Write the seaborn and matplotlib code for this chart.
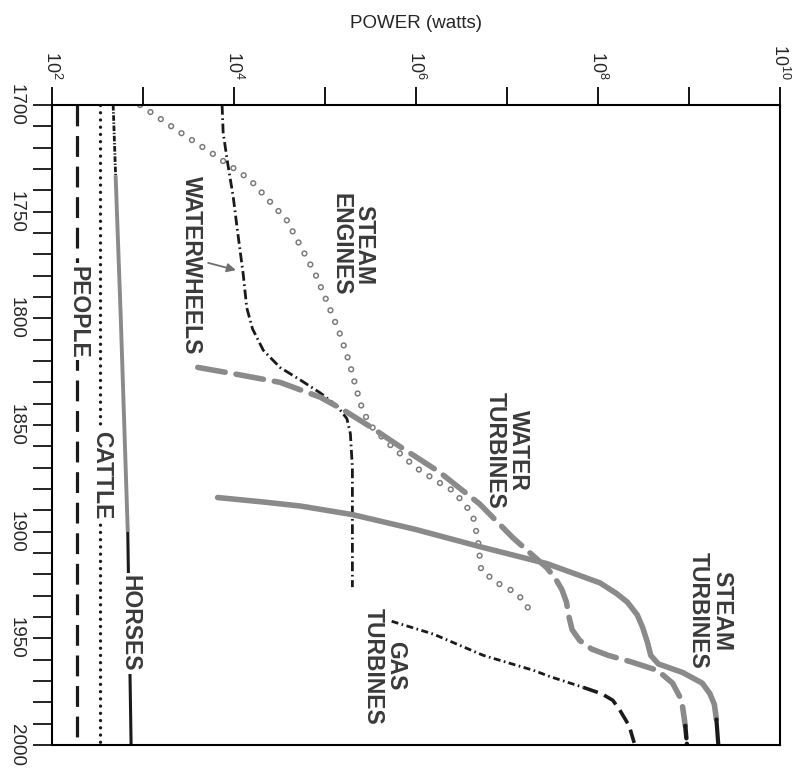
import matplotlib
matplotlib.use("Agg")
import matplotlib.pyplot as plt
import seaborn as sns
import numpy as np
import pandas as pd

# ---------------- data (power in watts, time in years) ----------------
people_years = [1700, 1997]
people_power = [1.9e2, 1.9e2]

cattle_years = [1700, 2000]
cattle_power = [3.4e2, 3.4e2]

horses_years = [1700, 1733, 1800, 1900, 2000]
horses_power = [4.7e2, 5.0e2, 5.7e2, 6.8e2, 7.4e2]

steam_eng_years = [1700, 1713, 1723, 1735, 1754, 1765, 1779, 1793, 1807, 1821, 1834,
                   1844, 1851, 1858, 1870, 1877, 1881, 1889, 1894, 1904, 1918, 1924,
                   1929, 1935, 1940]
steam_eng_power = [9.3e2, 2.6e3, 5.9e3, 1.5e4, 3.8e4, 5.2e4, 7.8e4, 1.07e5, 1.45e5, 1.86e5,
                   2.24e5, 2.63e5, 3.3e5, 4.8e5, 1.0e6, 1.8e6, 2.6e6, 3.7e6, 4.3e6, 4.8e6,
                   5.2e6, 7.8e6, 1.3e7, 1.66e7, 2.0e7]

waterwheel_years = [1700, 1713, 1727, 1743, 1760, 1779, 1795, 1805, 1815, 1823, 1829,
                    1835, 1841, 1847, 1854, 1870, 1900, 1926]
waterwheel_power = [7.4e3, 7.6e3, 8.5e3, 9.8e3, 1.1e4, 1.26e4, 1.38e4, 1.6e4, 2.1e4, 3.2e4,
                    5.4e4, 8.9e4, 1.35e5, 1.74e5, 1.9e5, 2.0e5, 2.0e5, 2.0e5]

water_turb_years = [1823, 1826, 1830, 1837, 1843, 1851, 1860, 1872, 1887, 1903, 1917, 1922,
                    1927, 1933, 1940, 1946, 1951, 1955, 1958, 1961, 1965, 1971, 1979, 1991, 2000]
water_turb_power = [4.0e3, 1.0e4, 3.2e4, 8.9e4, 1.6e5, 3.2e5, 6.6e5, 1.8e6, 5.0e6, 1.17e7,
                    2.75e7, 3.4e7, 4.0e7, 4.5e7, 4.8e7, 5.2e7, 6.3e7, 8.5e7, 1.3e8, 2.3e8,
                    4.5e8, 6.6e8, 8.3e8, 9.1e8, 9.5e8]

steam_turb_years = [1884, 1886, 1888, 1892, 1899, 1907, 1915, 1920, 1924, 1929, 1933, 1939,
                    1945, 1952, 1958, 1962, 1966, 1971, 1976, 1981, 1988, 2000]
steam_turb_power = [6.6e3, 2.0e4, 5.4e4, 2.0e5, 1.0e6, 5.0e6, 2.75e7, 5.8e7, 1.05e8, 1.6e8,
                    2.1e8, 2.7e8, 3.1e8, 3.5e8, 3.8e8, 4.6e8, 8.5e8, 1.4e9, 1.7e9, 1.9e9,
                    2.0e9, 2.1e9]

gas_turb_years = [1942, 1948, 1958, 1965, 1968, 1973, 1976, 1979, 1983, 1991, 1999]
gas_turb_power = [5.4e5, 1.55e6, 5.5e6, 1.95e7, 3.0e7, 6.9e7, 1.1e8, 1.45e8, 1.7e8, 2.2e8, 2.5e8]

power_ticks = [1e2, 1e3, 1e4, 1e5, 1e6, 1e7, 1e8, 1e9, 1e10]
power_ticklabels = ["$10^{2}$", "", "$10^{4}$", "", "$10^{6}$", "", "$10^{8}$", "", "$10^{10}$"]
year_ticks = [1700, 1750, 1800, 1850, 1900, 1950, 2000]
year_minor = list(range(1700, 2001, 10))

labels = ["STEAM\nENGINES", "WATERWHEELS", "PEOPLE", "CATTLE", "HORSES",
          "WATER\nTURBINES", "STEAM\nTURBINES", "GAS\nTURBINES"]
label_power = [2.0e5, 3.4e3, 1.93e2, 3.5e2, 7.2e2, 1.0e7, 1.7e9, 4.5e5]
label_year = [1765.5, 1775, 1797, 1873.5, 1943, 1862, 1937, 1963]

arrow_tail = (5.2e3, 1774)
arrow_head = (1.05e4, 1777.4)

# ---------------- style ----------------
sns.set_style("white")
plt.rcParams["font.family"] = ["Liberation Sans", "DejaVu Sans"]
plt.rcParams["mathtext.default"] = "regular"
plt.rcParams["lines.scale_dashes"] = False

GRAY = "#8a8a8a"
BLACK = "#1a1a1a"
TEXT = "#3a3a3a"

fig = plt.figure(figsize=(8.04, 7.72), dpi=100)
ax = fig.add_axes([52 / 804, 1 - 745 / 772, (780 - 52) / 804, (745 - 105) / 772])
ax.set_xscale("log")


def line(x, y, **kw):
    df = pd.DataFrame({"power": x, "year": y})
    sns.lineplot(data=df, x="power", y="year", orient="y", sort=True,
                 estimator=None, ax=ax, **kw)


# people (dashed)
line(people_power, people_years, color=BLACK, lw=2.3, linestyle=(0, (15, 7)))
# cattle (dotted)
line(cattle_power, cattle_years, color=BLACK, lw=2.4, linestyle=(0, (0.01, 5.2)),
     dash_capstyle="round")
# horses
line(horses_power[0:2], horses_years[0:2], color=BLACK, lw=2.0, linestyle=(0, (4, 1.2, 1, 1.2)))
line(horses_power[1:4], horses_years[1:4], color=GRAY, lw=2.8, solid_capstyle="butt")
line(horses_power[3:5], horses_years[3:5], color=BLACK, lw=2.2, solid_capstyle="butt")

# steam engines (ring dots)
line(steam_eng_power, steam_eng_years, color="#7a7a7a", lw=4.6,
     linestyle=(0, (0.01, 9.0)), dash_capstyle="round")
line(steam_eng_power, steam_eng_years, color="white", lw=2.4,
     linestyle=(0, (0.01, 9.0)), dash_capstyle="round")

# waterwheels (dash-dot)
line(waterwheel_power, waterwheel_years, color=BLACK, lw=2.0,
     linestyle=(0, (7, 2.6, 1.2, 2.6)))

# water turbines (gray long dashes)
line(water_turb_power[:-1], water_turb_years[:-1], color=GRAY, lw=4.0,
     linestyle=(0, (20, 8)), dash_capstyle="round")
line(water_turb_power[-2:], water_turb_years[-2:], color=BLACK, lw=3.2,
     linestyle=(3, (12, 4)), dash_capstyle="round")

# steam turbines (gray solid)
line(steam_turb_power[:-1], steam_turb_years[:-1], color=GRAY, lw=4.0,
     solid_capstyle="round", solid_joinstyle="round")
line(steam_turb_power[-2:], steam_turb_years[-2:], color=BLACK, lw=3.0,
     solid_capstyle="round")

# gas turbines
line(gas_turb_power[:6], gas_turb_years[:6], color=BLACK, lw=2.0,
     linestyle=(0, (5, 2.5, 1.2, 2.5)))
line(gas_turb_power[5:], gas_turb_years[5:], color=BLACK, lw=2.6,
     linestyle=(0, (11, 5)))

# ---------------- axes ----------------
ax.set_xlim(1e2, 1e10)
ax.set_ylim(2000, 1700)

ax.set_xticks(power_ticks, power_ticklabels)
ax.xaxis.set_minor_locator(matplotlib.ticker.NullLocator())
ax.tick_params(axis="x", which="major", top=True, labeltop=True, bottom=False,
               labelbottom=False, direction="out", length=13, width=1.3,
               labelsize=13, pad=5, labelrotation=-90, color="black")
ax.set_yticks(year_ticks, [str(y) for y in year_ticks])
ax.set_yticks(year_minor, minor=True)
ax.tick_params(axis="y", which="both", left=True, right=False, direction="out",
               length=13.5, width=1.2, color="black")
ax.tick_params(axis="y", which="major", labelsize=13.5, pad=6, labelrotation=-90)
for t in ax.get_yticklabels():
    t.set_va("center")

ax.xaxis.set_label_position("top")
ax.set_xlabel("POWER (watts)", fontsize=13.5, labelpad=12)
ax.set_ylabel("")

for s in ax.spines.values():
    s.set_visible(True)
    s.set_color("black")
    s.set_linewidth(1.5)

# ---------------- labels ----------------
for txt, px, py in zip(labels, label_power, label_year):
    occl = txt in ("PEOPLE", "CATTLE", "HORSES")
    ax.text(px, py, txt, rotation=-90, ha="center", va="center", ma="center",
            fontsize=16.5, fontweight="bold", color=TEXT, linespacing=1.0,
            zorder=5,
            bbox=dict(facecolor="white", edgecolor="none", pad=1.5) if occl else None)

ax.annotate("", xy=arrow_head, xytext=arrow_tail,
            arrowprops=dict(arrowstyle="-|>", color="#6f6f6f", lw=1.3,
                            mutation_scale=13, shrinkA=0, shrinkB=0), zorder=6)

fig.savefig("out.png", dpi=100)
